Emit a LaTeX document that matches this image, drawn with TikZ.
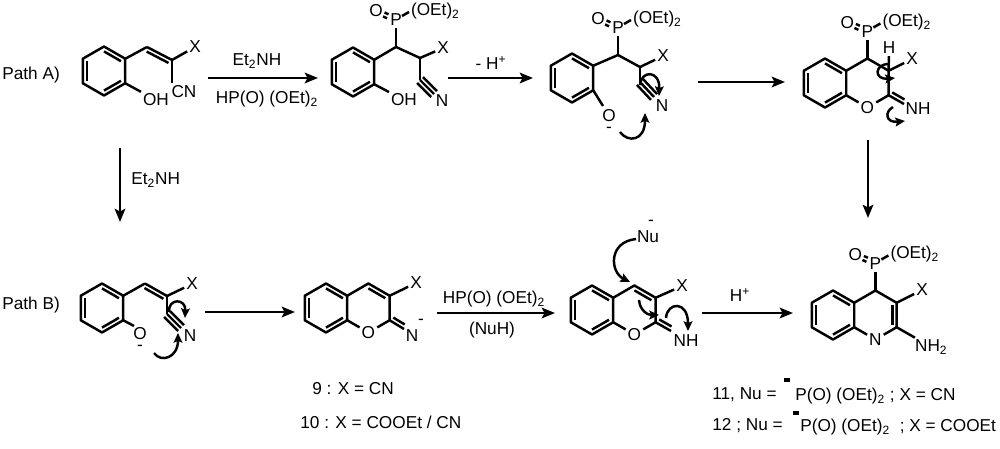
\documentclass[tikz,border=0pt]{standalone}
\usepackage{fontspec}
\setmainfont{Liberation Sans}
\usetikzlibrary{calc,arrows.meta}
\tikzset{
 bond/.style={line width=1.4pt, line join=round},
 atom/.style={inner sep=1pt, font=\fontsize{9.8}{12}\selectfont},
 lbl/.style={inner sep=0pt, font=\fontsize{9.8}{12}\selectfont},
 anion/.style={inner sep=0pt, align=center, font=\fontsize{9.8}{12}\selectfont},
 rxn/.style={line width=1.4pt, -{Stealth[length=7.5pt,width=6pt,inset=1.5pt]}},
 curly/.style={line width=1.4pt, -{Stealth[length=5.5pt,width=5pt,inset=1pt]}},
}
\newcommand{\hexat}[3]{%
 \path (#2,#3) coordinate (#1c)
   +(270:24.5) coordinate (#1t)
   +(330:24.5) coordinate (#1ur)
   +(30:24.5) coordinate (#1lr)
   +(90:24.5) coordinate (#1b)
   +(150:24.5) coordinate (#1ll)
   +(210:24.5) coordinate (#1ul);}
\newcommand{\ringdbl}[3]{\draw[bond] ($(#1)!0.2!(#3)$)--($(#2)!0.2!(#3)$);}
\newcommand{\benz}[1]{%
 \draw[bond] (#1t)--(#1ur)--(#1lr)--(#1b)--(#1ll)--(#1ul)--cycle;
 \ringdbl{#1t}{#1ur}{#1c}\ringdbl{#1lr}{#1b}{#1c}\ringdbl{#1ll}{#1ul}{#1c}}
\newcommand{\dbond}[3]{\draw[bond] (#1)--(#2);
 \draw[bond,shorten <=1pt,shorten >=1pt] ($(#1)!#3!90:(#2)$)--($(#2)!#3!-90:(#1)$);}
\newcommand{\tbond}[2]{\draw[bond] (#1)--(#2);
 \draw[bond] ($(#1)!2.4pt!90:(#2)$)--($(#2)!2.4pt!-90:(#1)$);
 \draw[bond] ($(#1)!-2.4pt!90:(#2)$)--($(#2)!-2.4pt!-90:(#1)$);}
\newcommand{\phos}[3]{%
 \node[atom] (#1P) at (#2,#3-27) {P};
 \node[atom] (#1O) at (#2-20,#3-36) {O};
 \node[atom,anchor=west] (#1E) at (#2+13,#3-36) {(OEt)\textsubscript{2}};
 \draw[bond] (#2,#3)--(#1P);
 \draw[bond] (#2+6,#3-31)--(#2+13,#3-35);
 \draw[bond] (#2-11.5,#3-34.5)--(#2-7.5,#3-32.7);
 \draw[bond] (#2-13,#3-30.5)--(#2-9,#3-28.7);}
\begin{document}
\begin{tikzpicture}[x=0.02cm,y=-0.02cm]
\useasboundingbox (0,0) rectangle (1000,449);
% ---------- labels
\node[lbl,anchor=west] (pA) at (2,75) {Path A)};
\node[lbl,anchor=west] (pB) at (2,305) {Path B)};
% ---------- M1
\hexat{a}{104}{71}\benz{a}
\coordinate (a1) at (147,47); \coordinate (a2) at (172,60);
\draw[bond] (aur)--(a1); \dbond{a1}{a2}{-2.4pt}
\node[atom] (aX) at (195,47) {X}; \draw[bond] (a2)--(aX);
\coordinate (a3) at (172,83); \draw[bond] (a2)--(a3);
\node[atom] (aCN) at (184,92) {CN};
\node[atom] (aOH) at (156,100) {OH}; \draw[bond] (alr)--(aOH);
% arrow 1
\coordinate (r1s) at (208,78); \coordinate (r1e) at (318,78);
\draw[rxn] (r1s)--(r1e);
\node[lbl] (r1a) at (257,61) {Et\textsubscript{2}NH};
\node[lbl] (r1b) at (267,99) {HP(O) (OEt)\textsubscript{2}};
% ---------- M2
\hexat{b}{353}{72}\benz{b}
\coordinate (b1) at (396,47); \coordinate (b2) at (420,58);
\draw[bond] (bur)--(b1)--(b2);
\phos{bp}{396}{47}
\node[atom] (bX) at (443,48) {X}; \draw[bond] (b2)--(bX);
\coordinate (b3) at (420,80); \draw[bond] (b2)--(b3);
\coordinate (b4) at (434,94); \tbond{b3}{b4}
\node[atom] (bN) at (442,101) {N};
\node[atom] (bOH) at (404,100) {OH}; \draw[bond] (blr)--(bOH);
% arrow 2
\coordinate (r2s) at (448,78); \coordinate (r2e) at (533,78);
\draw[rxn] (r2s)--(r2e);
\node[lbl] (r2a) at (491,63) {- H\textsuperscript{+}};
% ---------- M3
\hexat{c}{572}{78}\benz{c}
\coordinate (c1) at (618,55); \coordinate (c2) at (640,67);
\draw[bond] (cur)--(c1)--(c2);
\phos{cp}{618}{55}
\node[atom] (cX) at (663,56) {X}; \draw[bond] (c2)--(cX);
\coordinate (c3) at (640,82); \draw[bond] (c2)--(c3);
\coordinate (c4) at (654,97); \tbond{c3}{c4}
\node[atom] (cN) at (662,106) {N};
\node[anion,anchor=north] (cO) at (609,109) {O\\[-5.5pt]-};
\coordinate (cOb) at (603,106); \draw[bond] (clr)--(cOb);
\draw[curly] (640,85) .. controls (641,70) and (660,70) .. (659,96);
\draw[curly] (620,132) .. controls (628,143) and (645,141) .. (645,113);
% arrow 3
\coordinate (r3s) at (698,82); \coordinate (r3e) at (785,82);
\draw[rxn] (r3s)--(r3e);
% ---------- M4
\hexat{d}{825}{83}\benz{d}
\hexat{e}{867.4}{83}
\draw[bond] (dur)--(et)--(eur)--(elr);
\node[atom] (dO) at (eb) {O};
\draw[bond] (elr)--(dO)--(dlr);
\phos{dp}{867.4}{58.5}
\node[atom] (dH) at (889,48) {H}; \draw[bond] (eur)--(dH);
\node[atom] (dX) at (912,59) {X}; \draw[bond] (eur)--(dX);
\coordinate (d5) at (904,104); \dbond{elr}{d5}{2.4pt}
\node[atom] (dNH) at (918,109) {NH};
\draw[curly] (889,64) .. controls (874,64) and (874,80) .. (895,78);
\draw[curly] (893,107) .. controls (884,112) and (886,123) .. (905,121);
% arrow vertical right
\coordinate (v2s) at (868,140); \coordinate (v2e) at (868,218);
\draw[rxn] (v2s)--(v2e);
% arrow vertical left
\coordinate (v1s) at (120,148); \coordinate (v1e) at (120,222);
\draw[rxn] (v1s)--(v1e);
\node[lbl,anchor=west] (v1a) at (131,180) {Et\textsubscript{2}NH};
% ---------- M5
\hexat{f}{102}{308}\benz{f}
\coordinate (f1) at (145,283.5); \coordinate (f2) at (167,296);
\draw[bond] (fur)--(f1); \dbond{f1}{f2}{-2.4pt}
\node[atom] (fX) at (192,284) {X}; \draw[bond] (f2)--(fX);
\coordinate (f3) at (167,314); \draw[bond] (f2)--(f3);
\coordinate (f4) at (181,328); \tbond{f3}{f4}
\node[atom] (fN) at (190,336) {N};
\node[anion,anchor=north] (fO) at (140,327) {O\\[-5.5pt]-};
\coordinate (fOb) at (134,326); \draw[bond] (flr)--(fOb);
\draw[curly] (169,312) .. controls (168,298) and (186,298) .. (185,318);
\draw[curly] (154,353) .. controls (161,363) and (178,358) .. (178,333);
% arrow 4
\coordinate (r4s) at (205,312); \coordinate (r4e) at (295,312);
\draw[rxn] (r4s)--(r4e);
% ---------- M6
\hexat{g}{326}{308}\benz{g}
\hexat{h}{368.4}{308}
\draw[bond] (gur)--(ht)--(hur)--(hlr);
\ringdbl{ht}{hur}{hc}
\node[atom] (gO) at (hb) {O}; \draw[bond] (hlr)--(gO)--(glr);
\node[atom] (gX) at (416,283) {X}; \draw[bond] (hur)--(gX);
\coordinate (g5) at (404,329); \dbond{hlr}{g5}{2.4pt}
\node[atom] (gN) at (412,336) {N};
\node[lbl] (gm) at (421,322) {-};
% arrow 5
\coordinate (r5s) at (437,313); \coordinate (r5e) at (555,313);
\draw[rxn] (r5s)--(r5e);
\node[lbl] (r5a) at (494,299) {HP(O) (OEt)\textsubscript{2}};
\node[lbl] (r5b) at (492,330) {(NuH)};
% ---------- M7
\hexat{k}{592}{310}\benz{k}
\hexat{l}{634.4}{310}
\draw[bond] (kur)--(lt)--(lur)--(llr);
\ringdbl{lt}{lur}{lc}
\node[atom] (kO) at (lb) {O}; \draw[bond] (llr)--(kO)--(klr);
\node[atom] (kX) at (682,286) {X}; \draw[bond] (lur)--(kX);
\coordinate (k5) at (671,331); \dbond{llr}{k5}{2.4pt}
\node[atom] (kNH) at (686,341) {NH};
\node[atom] (kNu) at (648,237) {Nu};
\node[lbl] (km) at (651,223) {-};
\draw[curly] (636,239) .. controls (608,242) and (610,272) .. (630,282);
\draw[curly] (639,300) .. controls (640,311) and (648,315) .. (659,315);
\draw[curly] (666,318) .. controls (667,302) and (688,300) .. (688,331);
% arrow 6
\coordinate (r6s) at (702,313); \coordinate (r6e) at (793,313);
\draw[rxn] (r6s)--(r6e);
\node[lbl] (r6a) at (740,295) {H\textsuperscript{+}};
% ---------- M8
\hexat{m}{833}{315}\benz{m}
\hexat{n}{875.4}{315}
\draw[bond] (mur)--(nt)--(nur)--(nlr);
\ringdbl{nur}{nlr}{nc}
\node[atom] (mN) at (nb) {N}; \draw[bond] (nlr)--(mN)--(mlr);
\phos{mp}{875.4}{290.5}
\node[atom] (mX) at (922,290) {X}; \draw[bond] (nur)--(mX);
\node[atom,anchor=west] (mNH) at (913,347) {NH\textsubscript{2}}; \draw[bond] (nlr)--(mNH);
% ---------- bottom texts
\node[lbl,anchor=west] (t9) at (312,389) {9 : X = CN};
\node[lbl,anchor=west] (t10) at (300,422) {10 : X = COOEt / CN};
\node[lbl,anchor=west] (t11) at (712,395) {11, Nu =};
\fill (784,378) rectangle (790,381.5);
\node[lbl,anchor=west] (t11b) at (795,396) {P(O) (OEt)\textsubscript{2} ; X = CN};
\node[lbl,anchor=west] (t12) at (712,426) {12 ; Nu =};
\fill (793,411) rectangle (799,414.5);
\node[lbl,anchor=west] (t12b) at (800,427) {P(O) (OEt)\textsubscript{2}~ ; X = COOEt};
\end{tikzpicture}
\end{document}
